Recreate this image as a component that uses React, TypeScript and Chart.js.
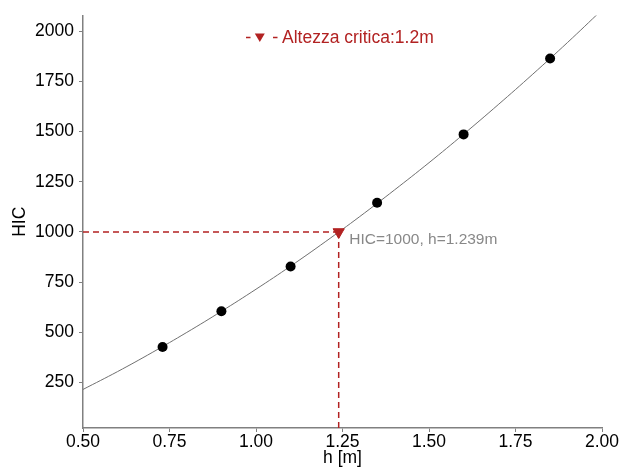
import React, { useEffect, useRef } from "react";
import { Chart, registerables } from "chart.js";

Chart.register(...registerables);

// Measured points (h [m], HIC)
const measuredH = [0.73, 0.9, 1.1, 1.35, 1.6, 1.85];
const measuredHIC = [427, 605, 828, 1146, 1486, 1864];

// Fitted curve
const fitH = [0.5, 0.6, 0.7, 0.8, 0.9, 1.0, 1.1, 1.2, 1.3, 1.4, 1.5, 1.6, 1.7, 1.8, 1.9, 2.0];
const fitHIC = [216, 305, 400, 500, 605, 715, 830, 951, 1077, 1209, 1345, 1487, 1634, 1786, 1943, 2106];

// Critical point
const criticalH = 1.239;
const criticalHIC = 1000;

// Axes
const xRange = [0.5, 2.0];
const yRange = [24, 2078];
const xTicks = [0.5, 0.75, 1.0, 1.25, 1.5, 1.75, 2.0];
const yTicks = [250, 500, 750, 1000, 1250, 1500, 1750, 2000];

const xTitle = "h [m]";
const yTitle = "HIC";
const legendLabel = "Altezza critica:1.2m";
const annotationLabel = "HIC=1000, h=1.239m";

const RED = "#b22222";
const FONT = "'Liberation Sans', Arial, Helvetica, sans-serif";
const AXIS = "#808080";

const overlayPlugin = {
  id: "overlay",
  afterDraw(chart: any) {
    const ctx = chart.ctx;
    const area = chart.chartArea;
    const xs = chart.scales.x;
    const ys = chart.scales.y;
    ctx.save();
    // annotation
    const px = xs.getPixelForValue(criticalH);
    const py = ys.getPixelForValue(criticalHIC);
    ctx.font = `15.5px ${FONT}`;
    ctx.fillStyle = "#888888";
    ctx.textAlign = "left";
    ctx.textBaseline = "middle";
    ctx.fillText(annotationLabel, px + 10.5, py + 7.5);

    // legend
    const ly = area.top + 22;
    const lx = area.left + 163;
    ctx.strokeStyle = RED;
    ctx.lineWidth = 1.5;
    ctx.beginPath();
    ctx.moveTo(lx, ly);
    ctx.lineTo(lx + 4.5, ly);
    ctx.moveTo(lx + 27, ly);
    ctx.lineTo(lx + 31.5, ly);
    ctx.stroke();
    const tcx = lx + 13.8;
    ctx.fillStyle = RED;
    ctx.beginPath();
    ctx.moveTo(tcx - 5, ly - 4);
    ctx.lineTo(tcx + 5, ly - 4);
    ctx.lineTo(tcx, ly + 4.6);
    ctx.closePath();
    ctx.fill();
    ctx.font = `17.5px ${FONT}`;
    ctx.textBaseline = "middle";
    ctx.fillText(legendLabel, lx + 36, ly + 1);
    ctx.restore();
  },
};

export default function App() {
  const ref = useRef<HTMLCanvasElement | null>(null);

  useEffect(() => {
    if (!ref.current) return;
    const chart = new Chart(ref.current, {
      type: "scatter",
      data: {
        datasets: [
          {
            label: "fit",
            data: fitH.map((h, i) => ({ x: h, y: fitHIC[i] })),
            showLine: true,
            borderColor: "#707070",
            borderWidth: 1,
            pointRadius: 0,
            tension: 0.4,
            order: 4,
          } as any,
          {
            label: "hline",
            data: [
              { x: xRange[0], y: criticalHIC },
              { x: criticalH, y: criticalHIC },
            ],
            showLine: true,
            borderColor: RED,
            borderWidth: 1.5,
            borderDash: [6, 4],
            pointRadius: 0,
            order: 3,
          },
          {
            label: "vline",
            data: [
              { x: criticalH, y: criticalHIC },
              { x: criticalH, y: yRange[0] },
            ],
            showLine: true,
            borderColor: RED,
            borderWidth: 1.5,
            borderDash: [6, 4],
            pointRadius: 0,
            order: 3,
          },
          {
            label: "points",
            data: measuredH.map((h, i) => ({ x: h, y: measuredHIC[i] })),
            backgroundColor: "#000000",
            borderColor: "#000000",
            pointRadius: 5,
            borderWidth: 0,
            order: 2,
          },
          {
            label: legendLabel,
            data: [{ x: criticalH, y: criticalHIC }],
            pointStyle: "triangle",
            rotation: 180,
            pointRadius: 6.5,
            backgroundColor: RED,
            borderColor: RED,
            borderWidth: 1,
            order: 1,
          },
        ],
      },
      options: {
        animation: false,
        responsive: false,
        devicePixelRatio: 1,
        layout: { padding: { top: 15, right: 20, left: 0, bottom: 0 } },
        plugins: {
          legend: { display: false },
          tooltip: { enabled: false },
        },
        scales: {
          x: {
            type: "linear",
            min: xRange[0],
            max: xRange[1],
            afterBuildTicks: (s: any) => {
              s.ticks = xTicks.map((v) => ({ value: v }));
            },
            afterFit: (s: any) => {
              s.height = 42;
            },
            ticks: {
              color: "#000",
              font: { family: FONT, size: 17.5 },
              padding: 0,
              maxRotation: 0,
              autoSkip: false,
              callback: (v: any) => Number(v).toFixed(2),
            },
            grid: {
              drawOnChartArea: false,
              drawTicks: true,
              tickLength: 4,
              tickColor: AXIS,
              lineWidth: 1,
            },
            border: { display: true, color: AXIS, width: 1.5 },
            title: {
              display: true,
              text: xTitle,
              color: "#000",
              font: { family: FONT, size: 17.5 },
              padding: { top: 0, bottom: 1 },
            },
          },
          y: {
            type: "linear",
            min: yRange[0],
            max: yRange[1],
            afterBuildTicks: (s: any) => {
              s.ticks = yTicks.map((v) => ({ value: v }));
            },
            afterFit: (s: any) => {
              s.width = 83;
            },
            ticks: {
              color: "#000",
              font: { family: FONT, size: 17.5 },
              padding: 5,
              autoSkip: false,
              callback: (v: any) => String(v),
            },
            grid: {
              drawOnChartArea: false,
              drawTicks: true,
              tickLength: 4,
              tickColor: AXIS,
              lineWidth: 1,
            },
            border: { display: true, color: AXIS, width: 1.5 },
            title: {
              display: true,
              text: yTitle,
              color: "#000",
              font: { family: FONT, size: 17.5 },
              padding: { top: 10, bottom: 0 },
            },
          },
        },
      } as any,
      plugins: [overlayPlugin],
    });
    return () => chart.destroy();
  }, []);

  return (
    <div style={{ position: "fixed", left: 0, top: 0, width: 622, height: 470, background: "#fff" }}>
      <canvas ref={ref} width={622} height={470} style={{ display: "block" }} />
    </div>
  );
}
